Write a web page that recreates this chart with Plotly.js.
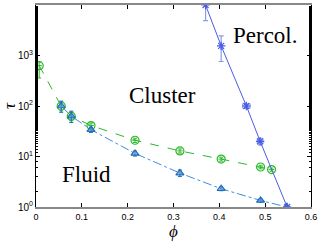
<!DOCTYPE html>
<html><head><meta charset="utf-8">
<script src="https://cdn.plot.ly/plotly-3.0.1.min.js"></script>
<style>html,body{margin:0;padding:0;background:#fff}#c{width:319px;height:248px}</style>
</head><body><div id="c"></div>
<script>
// Cluster line (green circles)
const clusterPhi = [0.007, 0.055, 0.077, 0.12, 0.216, 0.314, 0.404, 0.49, 0.514];
const clusterTau = [630, 100, 63, 41, 21, 12.9, 8.9, 6.2, 5.5];
const clusterErrPlus = [120, 20, 12, 5, 2, 1.2, 0.8, 0.5, 0.4];
const clusterErrMinus = [270, 20, 12, 5, 2, 1.2, 0.8, 0.5, 0.4];
// Fluid line (blue triangles)
const fluidPhi = [0.055, 0.077, 0.12, 0.216, 0.314, 0.404, 0.49, 0.547];
const fluidTau = [100, 63, 34, 11.5, 4.7, 2.3, 1.35, 1.0];
const fluidErr = [25, 16, 4, 1.3, 0.7, 0.2, 0.1, 0.03];
// Percolation line (stars)
const percPhi = [0.370, 0.404, 0.459, 0.489, 0.548];
const percTau = [10000, 1550, 100, 20, 1.0];
const percErrPlus = [4000, 900, 10, 3, 0.05];
const percErrMinus = [5100, 790, 10, 3, 0.05];
const percErrX = [0, 0, 0.008, 0.006, 0];
// axes
const xTicks = [0, 0.1, 0.2, 0.3, 0.4, 0.5, 0.6];
const xTickText = ['0', '0.1', '0.2', '0.3', '0.4', '0.5', '0.6'];
const yTicks = [1, 10, 100, 1000, 10000];
const yTickText = ['10<sup>0</sup>', '10<sup>1</sup>', '10<sup>2</sup>', '10<sup>3</sup>', '10<sup>4</sup>'];

const green = '#2cb82c', tri = '#1f6cb8', triLine = '#3d8fdc', star = '#4a5ce6';

const traces = [
  {x: clusterPhi, y: clusterTau, mode: 'lines+markers', type: 'scatter',
   line: {color: green, width: 1, dash: 'dash'},
   marker: {symbol: 'circle-open', size: 8, color: green, line: {width: 1.2, color: green}},
   error_y: {type: 'data', array: clusterErrPlus, arrayminus: clusterErrMinus, color: green, thickness: 1, width: 2},
   error_x: {type: 'constant', value: 0.006, color: green, thickness: 1, width: 0}},
  {x: fluidPhi, y: fluidTau, mode: 'lines+markers', type: 'scatter',
   line: {color: triLine, width: 1, dash: 'dashdot'},
   marker: {symbol: 'triangle-up', size: 7, color: 'rgba(90,150,220,0.6)', line: {width: 1.2, color: tri}},
   error_y: {type: 'data', array: fluidErr, color: tri, thickness: 1, width: 2}},
  {x: percPhi, y: percTau, mode: 'lines+markers', type: 'scatter',
   line: {color: star, width: 1},
   marker: {symbol: 'asterisk-open', size: 7, color: star, line: {width: 1.2, color: star}},
   error_y: {type: 'data', array: percErrPlus, arrayminus: percErrMinus, color: '#8c9aee', thickness: 1.2, width: 2.5},
   error_x: {type: 'data', array: percErrX, color: '#8c9aee', thickness: 1.2, width: 2.5}}
];

const serif = 'Liberation Serif, DejaVu Serif, serif';
const ann = (text, x, y) => ({text, xref: 'paper', yref: 'paper', x, y, xanchor: 'center', yanchor: 'middle',
  showarrow: false, font: {family: serif, size: 23, color: '#000'}});
const layout = {
  width: 319, height: 248,
  margin: {l: 36, r: 8, t: 5, b: 41},
  paper_bgcolor: '#fff', plot_bgcolor: '#fff',
  showlegend: false,
  font: {family: 'Liberation Sans, Arial, sans-serif', size: 9, color: '#000'},
  xaxis: {range: [0, 0.6], tickvals: xTicks, ticktext: xTickText,
    ticks: 'inside', ticklen: 4, tickcolor: '#000', tickwidth: 1,
    showline: true, linecolor: '#888', linewidth: 2, mirror: 'allticks',
    showgrid: false, zeroline: false, tickfont: {size: 9},
    title: {text: '<i>ϕ</i>', font: {family: serif, size: 17}, standoff: 4}},
  yaxis: {type: 'log', range: [0, 4], tickvals: yTicks, ticktext: yTickText,
    ticks: 'inside', ticklen: 4, tickcolor: '#000', tickwidth: 1,
    showline: true, linecolor: '#000', linewidth: 1, mirror: 'allticks',
    showgrid: false, zeroline: false, tickfont: {size: 10},
    minor: {ticks: 'inside', ticklen: 2, tickcolor: '#000', showgrid: false},
    title: {text: '<i>τ</i>', font: {family: serif, size: 17}, standoff: 2}},
  annotations: [
    ann('Cluster', 0.461, 0.55),
    ann('Percol.', 0.834, 0.85),
    ann('Fluid', 0.182, 0.16)
  ]
};
Plotly.newPlot('c', traces, layout, {displayModeBar: false, staticPlot: true});
</script></body></html>
